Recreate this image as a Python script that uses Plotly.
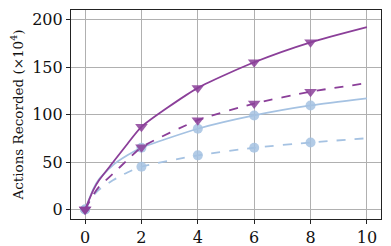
import plotly.graph_objects as go

# curve samples
line_x = [0, 0.3, 0.5, 1, 1.5, 2, 4, 6, 8, 10]
purple_solid = [0, 21, 31, 50, 69, 87, 128, 155, 176, 192]
purple_dashed = [0, 16, 24, 38, 52, 65.5, 94, 111.5, 124, 133]
blue_solid = [0, 22, 32, 47, 57, 65, 85, 99, 109.5, 117]
blue_dashed = [0, 15, 21, 31, 39, 45, 57, 65, 70.5, 75]

# marker positions
marker_x = [0, 2, 4, 6, 8]
purple_solid_m = [0, 87, 128, 155, 176]
purple_dashed_m = [0, 65.5, 94, 111.5, 124]
blue_solid_m = [0, 65, 85, 99, 109.5]
blue_dashed_m = [0, 45, 57, 65, 70.5]

x_ticks = [0, 2, 4, 6, 8, 10]
y_ticks = [0, 50, 100, 150, 200]

PURPLE = "#8b3f99"
BLUE = "#a5c2e2"
FONT = "DejaVu Serif"

fig = go.Figure()

def add(xl, yl, xm, ym, color, dash, symbol, msize):
    fig.add_trace(go.Scatter(x=xl, y=yl, mode="lines",
                             line=dict(color=color, width=1.8, dash=dash, shape="spline", smoothing=0.6),
                             showlegend=False, hoverinfo="skip"))
    fig.add_trace(go.Scatter(x=xm, y=ym, mode="markers",
                             marker=dict(color=color, size=msize, symbol=symbol, opacity=0.85, line=dict(width=0)),
                             showlegend=False))

add(line_x, blue_dashed, marker_x, blue_dashed_m, BLUE, "dash", "circle", 10)
add(line_x, blue_solid, marker_x, blue_solid_m, BLUE, "solid", "circle", 10)
add(line_x, purple_dashed, marker_x, purple_dashed_m, PURPLE, "dash", "triangle-down", 11)
add(line_x, purple_solid, marker_x, purple_solid_m, PURPLE, "solid", "triangle-down", 11)

axis_common = dict(showgrid=True, gridcolor="#b0b0b0", gridwidth=1, showline=True, linecolor="#222", linewidth=1.2,
                   mirror=True, ticks="outside", ticklen=4, tickcolor="#222", zeroline=False, automargin=False,
                   tickfont=dict(family=FONT, size=16, color="#111"))

# the page body has an 8px margin, so the figure is 8px smaller than the window
fig.update_layout(
    width=383, height=238,
    margin=dict(l=63, r=10, t=2, b=27),
    paper_bgcolor="white", plot_bgcolor="white",
    xaxis=dict(range=[-0.5, 10.5], tickvals=x_ticks, **axis_common),
    yaxis=dict(range=[-10, 210], tickvals=y_ticks,
               title=dict(text="Actions Recorded (×10<sup>4</sup>)", font=dict(family=FONT, size=13.5, color="#111"), standoff=6),
               **axis_common),
)

fig.write_html("out.html")
